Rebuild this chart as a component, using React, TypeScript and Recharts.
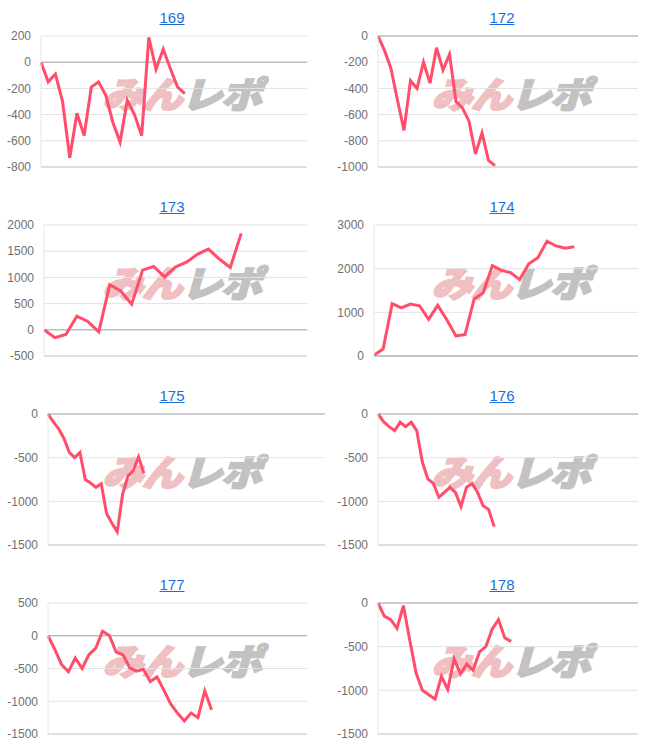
import { LineChart, Line, XAxis, YAxis, CartesianGrid, ReferenceLine } from "recharts";

// chart titles (link text)
const titles = ["169", "172", "173", "174", "175", "176", "177", "178"];

// cumulative values per chart
const s169 = [0, -150, -90, -300, -730, -390, -560, -190, -150, -250, -460, -610, -290, -400, -560, 190, -55, 100, -50, -190, -240];
const s172 = [0, -110, -250, -490, -720, -340, -400, -200, -360, -90, -260, -140, -500, -550, -650, -900, -740, -950, -990];
const s173 = [0, -150, -90, 260, 160, -40, 860, 740, 490, 1140, 1210, 1010, 1200, 1290, 1440, 1540, 1350, 1190, 1840];
const s174 = [20, 160, 1200, 1100, 1190, 1150, 840, 1160, 830, 460, 490, 1300, 1450, 2070, 1960, 1910, 1750, 2110, 2250, 2630, 2520, 2470, 2500];
const s175 = [0, -90, -170, -280, -440, -500, -440, -750, -790, -840, -800, -1140, -1250, -1350, -920, -710, -650, -490, -680];
const s176 = [0, -88, -145, -190, -95, -145, -95, -190, -546, -744, -794, -954, -897, -840, -897, -1060, -840, -794, -897, -1050, -1092, -1290];
const s177 = [0, -210, -440, -550, -340, -500, -290, -190, 70, 5, -250, -290, -490, -540, -510, -700, -630, -830, -1040, -1180, -1300, -1180, -1250, -840, -1130];
const s178 = [0, -150, -190, -290, -30, -420, -800, -1000, -1050, -1100, -840, -990, -640, -810, -700, -770, -560, -500, -300, -190, -400, -440];

// total x slots on each chart's axis
const slots = [37, 40, 24, 29, 52, 47, 38, 41];

// y tick labels
const ticks169 = [-800, -600, -400, -200, 0, 200];
const ticks172 = [-1000, -800, -600, -400, -200, 0];
const ticks173 = [-500, 0, 500, 1000, 1500, 2000];
const ticks174 = [0, 1000, 2000, 3000];
const ticks175 = [-1500, -1000, -500, 0];
const ticks176 = [-1500, -1000, -500, 0];
const ticks177 = [-1500, -1000, -500, 0, 500];
const ticks178 = [-1500, -1000, -500, 0];

const series = [s169, s172, s173, s174, s175, s176, s177, s178];
const tickSets = [ticks169, ticks172, ticks173, ticks174, ticks175, ticks176, ticks177, ticks178];

// plot left edge / right margin inside each 333px panel
const plotLeft = [41, 45, 44, 41, 48, 45, 48, 45];
const plotRight = [26, 28, 26, 28, 8, 28, 26, 28];

const PANEL_W = 333;
const PANEL_H = 189;
const LINE = "#ff4d6a";

function Panel({ idx }: { idx: number }) {
  const values = series[idx];
  const ticks = tickSets[idx];
  const data = values.map((v, i) => ({ x: i, v }));
  const lo = ticks[0];
  const hi = ticks[ticks.length - 1];
  const col = idx % 2;
  const row = Math.floor(idx / 2);
  const titleCx = col === 0 ? 172 : 169;

  return (
    <div
      style={{
        position: "absolute",
        left: col * PANEL_W,
        top: row * PANEL_H,
        width: PANEL_W,
        height: PANEL_H,
      }}
    >
      <div
        style={{
          position: "absolute",
          left: titleCx - 50,
          top: 9,
          width: 100,
          textAlign: "center",
          fontSize: 15,
          lineHeight: "17px",
        }}
      >
        <a href="#" style={{ color: "#1a6fdc", textDecoration: "underline" }}>
          {titles[idx]}
        </a>
      </div>
      {/* watermark */}
      <div
        style={{
          position: "absolute",
          left: col === 0 ? 107 : 103,
          top: 74,
          whiteSpace: "nowrap",
          fontFamily: "'Noto Sans CJK JP', sans-serif",
          fontWeight: 900,
          fontSize: 36,
          lineHeight: "36px",
          letterSpacing: -1,
          transformOrigin: "0 50%",
          transform: "skewX(-16deg) scaleX(1.13)",
        }}
      >
        <span style={{ color: "#efbfc2", WebkitTextStroke: "2px #efbfc2" }}>みん</span>
        <span style={{ color: "#c2c2c2", WebkitTextStroke: "2px #c2c2c2" }}>レポ</span>
      </div>
      <LineChart
        width={PANEL_W}
        height={PANEL_H}
        data={data}
        margin={{ top: 36, right: plotRight[idx], bottom: 22, left: 0 }}
      >
        <CartesianGrid horizontal vertical={false} stroke="#e2e2e2" />
        <XAxis type="number" dataKey="x" domain={[0, slots[idx]]} hide />
        <YAxis
          type="number"
          domain={[lo, hi]}
          ticks={ticks}
          interval={0}
          width={plotLeft[idx]}
          axisLine={{ stroke: "#e6e6e6" }}
          tickLine={false}
          tickSize={0}
          tickMargin={10}
          tick={{ fill: "#707070", fontSize: 12, fontFamily: "'Liberation Sans', Arial, sans-serif" }}
        />
        <ReferenceLine y={lo} stroke="#cccccc" />
        <ReferenceLine y={0} stroke="#a9a9a9" />
        <Line
          type="linear"
          dataKey="v"
          stroke={LINE}
          strokeWidth={3}
          dot={false}
          isAnimationActive={false}
        />
      </LineChart>
    </div>
  );
}

export default function App() {
  return (
    <div
      style={{
        position: "absolute",
        left: 0,
        top: 0,
        width: 666,
        height: 744,
        background: "#fff",
        fontFamily: "'Liberation Sans', Arial, sans-serif",
      }}
    >
      {titles.map((t, i) => (
        <Panel key={t} idx={i} />
      ))}
    </div>
  );
}
